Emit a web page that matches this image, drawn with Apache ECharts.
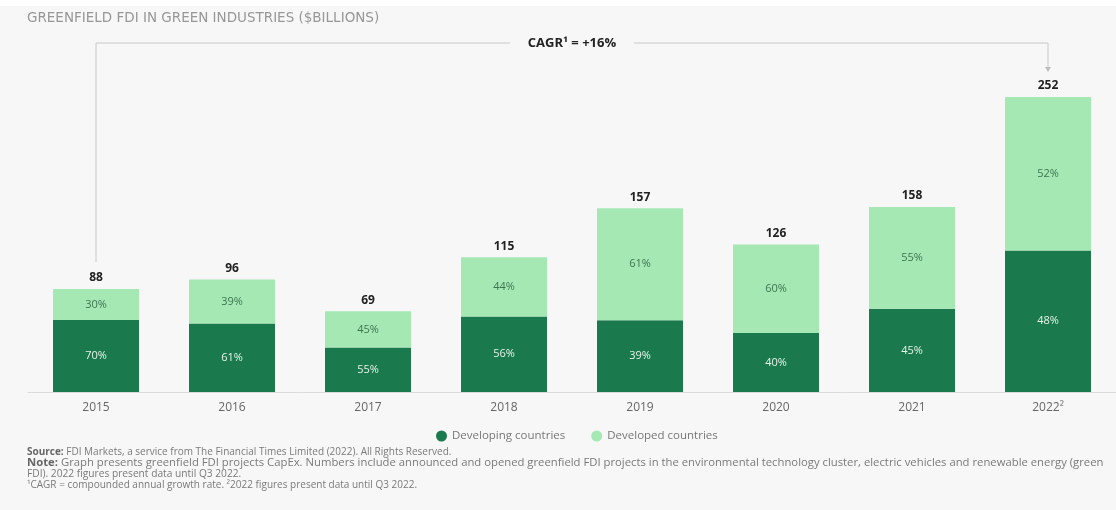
<!DOCTYPE html>
<html><head><meta charset="utf-8">
<script src="https://cdn.jsdelivr.net/npm/echarts@6/dist/echarts.min.js"></script>
<style>html,body{margin:0;padding:0;background:#fff}#c{width:1116px;height:510px}</style>
</head><body><div id="c"></div>
<script>
const categories = ['2015', '2016', '2017', '2018', '2019', '2020', '2021', '2022\u00B2'];
const totals = [88, 96, 69, 115, 157, 126, 158, 252];
const developingPct = [70, 61, 55, 56, 39, 40, 45, 48];
const developedPct = [30, 39, 45, 44, 61, 60, 55, 52];
const seriesNames = ['Developing countries', 'Developed countries'];
const titleText = 'GREENFIELD FDI IN GREEN INDUSTRIES ($BILLIONS)';
const cagrText = 'CAGR\u00B9 = +16%';
const footLines = [
  '{b|Source:} FDI Markets, a service from The Financial Times Limited (2022). All Rights Reserved.',
  '{b|Note:} Graph presents greenfield FDI projects CapEx. Numbers include announced and opened greenfield FDI projects in the environmental technology cluster, electric vehicles and renewable energy (green',
  'FDI). 2022 figures present data until Q3 2022.',
  '\u00B9CAGR = compounded annual growth rate. \u00B22022 figures present data until Q3 2022.'
];
const footSizes = [10, 11.3, 10.2, 10];

const FONT = "'Open Sans', 'Liberation Sans', sans-serif";
const DARK = '#1b7a4d';
const LIGHT = '#a6e8b4';
const developing = totals.map((t, i) => t * developingPct[i] / 100);
const developed = totals.map((t, i) => t - developing[i]);

const chart = echarts.init(document.getElementById('c'), null, {renderer: 'canvas'});
chart.setOption({
  backgroundColor: '#f7f7f7',
  animation: false,
  textStyle: {fontFamily: FONT},
  grid: {left: 28, right: -10, top: 87.6, bottom: 118},
  xAxis: {
    type: 'category', data: categories,
    axisLine: {lineStyle: {color: '#dcdcdc', width: 1}},
    axisTick: {show: false},
    axisLabel: {color: '#666', fontSize: 12, margin: 10, fontFamily: FONT}
  },
  yAxis: {type: 'value', min: 0, max: 260, show: false, splitLine: {show: false}},
  legend: {
    data: seriesNames, left: 431, top: 425, icon: 'circle', itemWidth: 11, itemHeight: 11, itemGap: 26,
    textStyle: {color: '#777', fontSize: 11.5, fontFamily: FONT}
  },
  series: [
    {
      name: seriesNames[0], type: 'bar', stack: 's', barWidth: 86, data: developing,
      itemStyle: {color: DARK},
      label: {show: true, position: 'inside', color: '#e4f3e8', fontSize: 11, fontFamily: FONT,
        formatter: p => developingPct[p.dataIndex] + '%'}
    },
    {
      name: seriesNames[1], type: 'bar', stack: 's', barWidth: 86, data: developed,
      itemStyle: {color: LIGHT},
      label: {show: true, position: 'inside', color: '#3d7552', fontSize: 11, fontFamily: FONT,
        formatter: p => developedPct[p.dataIndex] + '%'}
    },
    {
      name: 'Total', type: 'bar', stack: 's', barWidth: 86, data: totals.map(() => 0), silent: true,
      itemStyle: {color: 'rgba(0,0,0,0)'},
      label: {show: true, position: 'top', distance: 5, color: '#222', fontWeight: 'bold', fontSize: 12, fontFamily: FONT,
        formatter: p => String(totals[p.dataIndex])}
    }
  ]
});

const x0 = chart.convertToPixel({xAxisIndex: 0}, categories[0]);
const x1 = chart.convertToPixel({xAxisIndex: 0}, categories[categories.length - 1]);
const yA = chart.convertToPixel({yAxisIndex: 0}, totals[0]) - 27;
const yB = chart.convertToPixel({yAxisIndex: 0}, totals[totals.length - 1]) - 25;
const yL = 43;
const xm = (x0 + x1) / 2;
const lineStyle = {stroke: '#c8c8c8', lineWidth: 1};

const graphics = [
  {type: 'rect', shape: {x: 0, y: 0, width: 1116, height: 6}, style: {fill: '#ffffff'}},
  {type: 'text', x: 27, y: 18, style: {text: titleText, fontSize: 13.5, fill: '#979797', verticalAlign: 'middle', fontFamily: "'DejaVu Sans', sans-serif"}},
  {type: 'polyline', shape: {points: [[x0, yA], [x0, yL], [xm - 62, yL]]}, style: lineStyle},
  {type: 'polyline', shape: {points: [[xm + 62, yL], [x1, yL], [x1, yB - 4]]}, style: lineStyle},
  {type: 'polygon', shape: {points: [[x1 - 3, yB - 5], [x1 + 3, yB - 5], [x1, yB]]}, style: {fill: '#bdbdbd'}},
  {type: 'text', x: xm, y: yL, style: {text: cagrText, fontSize: 13, fontWeight: 'bold', fill: '#222', align: 'center', verticalAlign: 'middle', fontFamily: FONT}}
];
footLines.forEach((t, i) => {
  graphics.push({type: 'text', x: 27, y: 452 + i * 11, style: {
    text: t, fontSize: footSizes[i], fill: '#7a7a7a', fontFamily: FONT, verticalAlign: 'middle',
    rich: {b: {fontWeight: 'bold', fontSize: footSizes[i], fill: '#666', fontFamily: FONT, verticalAlign: 'middle'}}
  }});
});
chart.setOption({graphic: graphics});
</script>
</body></html>
